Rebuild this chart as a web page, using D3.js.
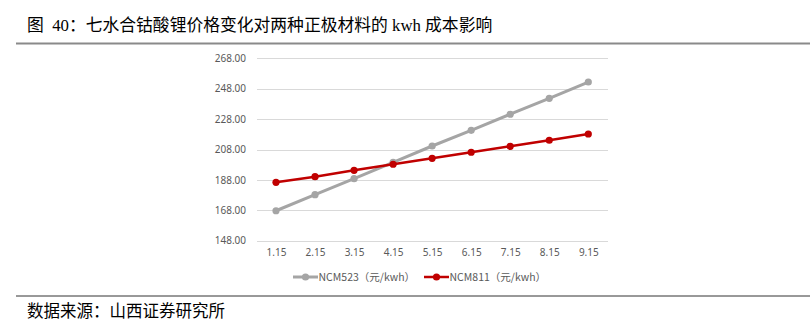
<!DOCTYPE html>
<html><head><meta charset="utf-8">
<script src="https://cdn.jsdelivr.net/npm/d3@7"></script>
<style>body{margin:0;background:#fff;} svg{display:block;}</style>
</head><body>
<svg id="c" width="810" height="322"></svg>
<script>
const categories = ["1.15","2.15","3.15","4.15","5.15","6.15","7.15","8.15","9.15"];
const ncm523 = [167.7,178.3,188.8,199.6,210.3,220.6,231.2,241.7,252.4];
const ncm811 = [186.4,190.1,194.3,198.3,202.2,206.2,210.1,214.1,218.2];
const yTicks = [148,168,188,208,228,248,268];
const seriesNames = ["NCM523（元/kwh）","NCM811（元/kwh）"];
const titleText = "图  40：七水合钴酸锂价格变化对两种正极材料的 kwh 成本影响";
const sourceText = "数据来源：山西证券研究所";

const svg = d3.select("#c");
const colors = ["#a5a5a5","#c00000"];
const widths = [3,2.5];

// title
svg.append("text").attr("x",27).attr("y",31)
  .style("font-family","'Liberation Serif','Noto Sans CJK SC',serif")
  .style("font-size","16.8px").style("white-space","pre").attr("fill","#000").text(titleText);
svg.append("line").attr("x1",16).attr("x2",810).attr("y1",43.5).attr("y2",43.5)
  .attr("stroke","#8a8a8a").attr("stroke-width",2);

const x = d3.scalePoint().domain(categories).range([276,588.3]);
const y = d3.scaleLinear().domain([148,268]).range([240.7,58.3]);

const plotL = 257, plotR = 608;
// grid
svg.append("g").selectAll("line").data(yTicks).join("line")
  .attr("x1",plotL).attr("x2",plotR)
  .attr("y1",d=>Math.round(y(d))+0.5).attr("y2",d=>Math.round(y(d))+0.5)
  .attr("stroke","#d9d9d9").attr("stroke-width",1);

// y axis labels
const yAxis = d3.axisLeft(y).tickValues(yTicks).tickFormat(d3.format(".2f")).tickSize(0).tickPadding(0);
const gy = svg.append("g").attr("transform","translate(246,0)").call(yAxis);
gy.select(".domain").remove();
gy.selectAll("text").attr("fill","#595959")
  .style("font-family","'Noto Sans','DejaVu Sans',sans-serif").style("font-size","10px");

// x axis labels
const xAxis = d3.axisBottom(x).tickSize(0).tickPadding(0);
const gx = svg.append("g").attr("transform","translate(0,249)").call(xAxis);
gx.select(".domain").remove();
gx.selectAll("text").attr("fill","#595959")
  .style("font-family","'Noto Sans','DejaVu Sans',sans-serif").style("font-size","10px");

// lines
const seriesData = [ncm523, ncm811];
const line = d3.line().x((d,i)=>x(categories[i])).y(d=>y(d));
seriesData.forEach((s,k)=>{
  svg.append("path").datum(s).attr("d",line).attr("fill","none")
    .attr("stroke",colors[k]).attr("stroke-width",widths[k]).attr("stroke-linejoin","round");
  svg.append("g").selectAll("circle").data(s).join("circle")
    .attr("cx",(d,i)=>x(categories[i])).attr("cy",d=>y(d)).attr("r",3.6)
    .attr("fill",colors[k]);
});

// legend
const legX = [293, 424];
const legY = 277;
seriesNames.forEach((n,k)=>{
  const g = svg.append("g");
  g.append("line").attr("x1",legX[k]).attr("x2",legX[k]+25).attr("y1",legY).attr("y2",legY)
    .attr("stroke",colors[k]).attr("stroke-width",widths[k]);
  g.append("circle").attr("cx",legX[k]+12.5).attr("cy",legY).attr("r",3.6).attr("fill",colors[k]);
  g.append("text").attr("x",legX[k]+25.5).attr("y",legY+3.8).attr("fill","#595959")
    .style("font-family","'Noto Sans CJK SC','Noto Sans',sans-serif").style("font-size","10.5px").text(n);
});

// bottom line and source
svg.append("line").attr("x1",16).attr("x2",810).attr("y1",296).attr("y2",296)
  .attr("stroke","#333").attr("stroke-width",1);
svg.append("text").attr("x",27).attr("y",316.5)
  .style("font-family","'Noto Sans CJK SC',sans-serif").style("font-size","16.5px")
  .attr("fill","#000").text(sourceText);
</script>
</body></html>
